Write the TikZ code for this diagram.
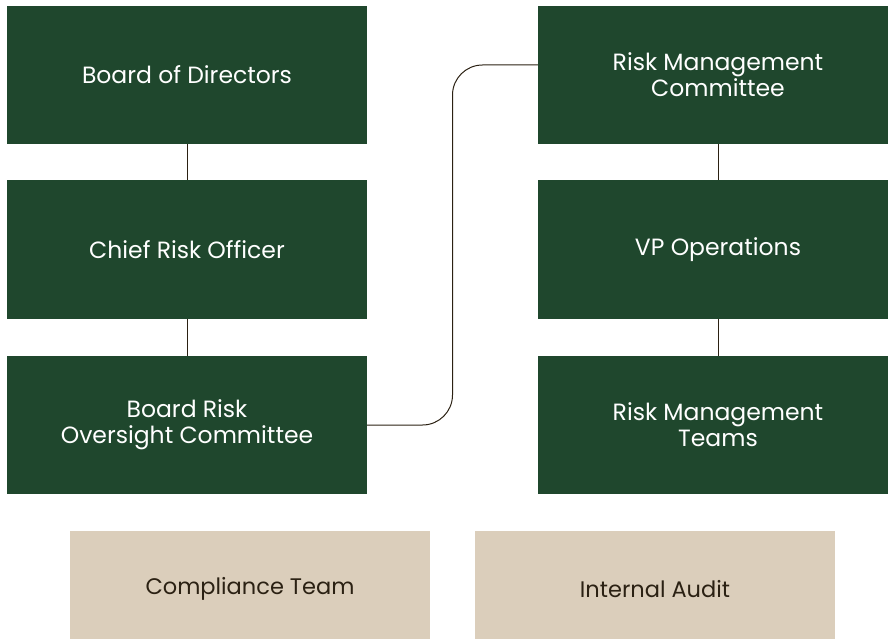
\documentclass[tikz,border=0pt]{standalone}
\usepackage{fontspec}
\setmainfont{Poppins}
\usepackage{tikz}
\usetikzlibrary{calc}

\definecolor{pine}{HTML}{1F472D}
\definecolor{sand}{HTML}{DBCEBB}
\definecolor{bark}{HTML}{2B2113}

\begin{document}
\begin{tikzpicture}[x=1pt,y=-1pt,
  unit/.style={fill=pine,text=white,minimum width=360pt,minimum height=138pt,
    inner sep=0pt,align=center,font=\fontsize{23.5}{26}\selectfont},
  side/.style={fill=sand,text=bark,minimum width=360pt,minimum height=116pt,
    inner sep=0pt,align=center,font=\fontsize{22.5}{26}\selectfont},
  link/.style={draw=bark,line width=1pt}]
\useasboundingbox (0,0) rectangle (888,639);

% left column
\node[unit] (bod) at (187,75) {Board of Directors};
\node[unit] (cro) at (187,249.5) {Chief Risk Officer};
\node[unit] (bro) at (187,425) {Board Risk\\Oversight Committee};

% right column
\node[unit] (rmc) at (718,75) {Risk Management\\Committee};
\node[unit] (vpo) at (718,249.5) {VP Operations};
\node[unit] (rmt) at (718,425) {Risk Management\\Teams};

% bottom row
\node[side] (comp) at (250,589) {Compliance Team};
\node[side] (audit) at (655,589) {Internal Audit};

\draw[link] (bod) -- (cro);
\draw[link] (cro) -- (bro);
\draw[link] (rmc) -- (vpo);
\draw[link] (vpo) -- (rmt);

\coordinate (mid) at ($(bro.east)!0.5!(rmc.west)$);
\draw[link,rounded corners=30pt] (bro.east) -| (mid) |- ([yshift=10pt]rmc.west);
\end{tikzpicture}
\end{document}
